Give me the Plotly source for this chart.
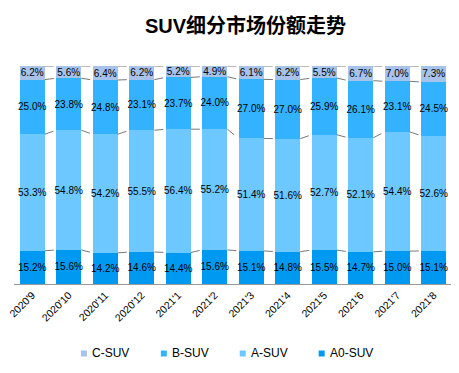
import plotly.graph_objects as go

months = ["2020'9", "2020'10", "2020'11", "2020'12", "2021'1", "2021'2",
          "2021'3", "2021'4", "2021'5", "2021'6", "2021'7", "2021'8"]
a0_suv = [15.2, 15.6, 14.2, 14.6, 14.4, 15.6, 15.1, 14.8, 15.5, 14.7, 15.0, 15.1]
a_suv = [53.3, 54.8, 54.2, 55.5, 56.4, 55.2, 51.4, 51.6, 52.7, 52.1, 54.4, 52.6]
b_suv = [25.0, 23.8, 24.8, 23.1, 23.7, 24.0, 27.0, 27.0, 25.9, 26.1, 23.1, 24.5]
c_suv = [6.2, 5.6, 6.4, 6.2, 5.2, 4.9, 6.1, 6.2, 5.5, 6.7, 7.0, 7.3]

series = [("A0-SUV", a0_suv, "#0099F2"),
          ("A-SUV", a_suv, "#6DC8FF"),
          ("B-SUV", b_suv, "#33B3FF"),
          ("C-SUV", c_suv, "#A8C3E9")]

FONT = "Liberation Sans, Arial, Noto Sans CJK SC, sans-serif"
BAR_W = 0.69
n = len(months)
x = list(range(n))
totals = [sum(s[1][i] for s in series) for i in range(n)]

W, H = 451, 365  # page body has an 8px default margin
ML, MR, MT, MB = 6, 6.5, 58, 89
PW, PH = W - ML - MR, H - MT - MB


def px(xp):
    return (xp - ML) / PW


def py(yp):
    return (H - MB - yp) / PH


fig = go.Figure()
cum = [0.0] * n
boundaries = []
for name, vals, color in series:
    norm = [v / t * 100 for v, t in zip(vals, totals)]
    fig.add_trace(go.Bar(
        x=x, y=norm, name=name, marker_color=color, width=BAR_W,
        text=[f"{v:.1f}%" for v in vals], textposition="inside",
        insidetextanchor="middle", textangle=0, constraintext="none",
        textfont=dict(color="black", size=10, family=FONT),
        showlegend=False, hoverinfo="skip", marker_line_width=0,
    ))
    cum = [c + v for c, v in zip(cum, norm)]
    boundaries.append(list(cum))

# dashed series lines between bars
for b in boundaries:
    lx, ly = [], []
    for i in range(n - 1):
        lx += [i + BAR_W / 2, i + 1 - BAR_W / 2, None]
        ly += [b[i], b[i + 1], None]
    fig.add_trace(go.Scatter(x=lx, y=ly, mode="lines", showlegend=False,
                             line=dict(color="#555555", width=0.8, dash="dash"),
                             hoverinfo="skip", cliponaxis=False))

# legend (small squares + text), order C, B, A, A0
legend_x = [73, 153, 232, 311]
for (name, vals, color), lxp in zip(reversed(series), legend_x):
    fig.add_shape(type="rect", xref="paper", yref="paper",
                  x0=px(lxp), x1=px(lxp + 6), y0=py(342.5), y1=py(348.5),
                  fillcolor=color, line_width=0)
    fig.add_annotation(text=name, xref="paper", yref="paper", x=px(lxp + 9), y=py(345),
                       xanchor="left", yanchor="middle", showarrow=False,
                       font=dict(size=12, family=FONT, color="black"))

fig.update_layout(
    width=W, height=H,
    margin=dict(l=ML, r=MR, t=MT, b=MB, autoexpand=False),
    paper_bgcolor="white", plot_bgcolor="white",
    barmode="stack", bargap=0.31,
    font=dict(family=FONT, color="black", size=10),
    title=dict(text="<b>SUV细分市场份额走势</b>", x=237.5 / W, xanchor="center",
               y=1 - 18 / H, yanchor="middle",
               font=dict(size=20, family="Liberation Sans, Noto Sans CJK SC", color="black")),
    showlegend=False,
    xaxis=dict(tickmode="array", tickvals=x, ticktext=months, range=[-0.5, n - 0.5],
               tickangle=-45, showline=True, linecolor="#999999", linewidth=1,
               showgrid=False, zeroline=False, ticks="", tickfont=dict(size=10.5),
               ticklabeloverflow="allow"),
    yaxis=dict(range=[0, 100], visible=False, showgrid=False, zeroline=False),
)

fig.write_html("out.html")
